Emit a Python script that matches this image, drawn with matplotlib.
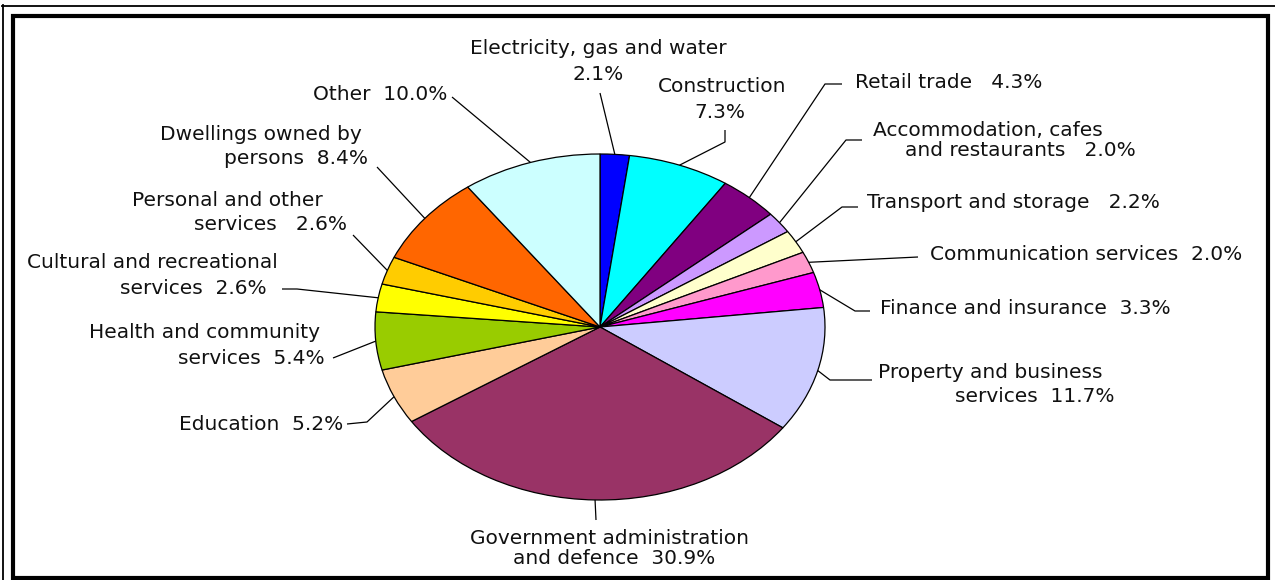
import matplotlib
matplotlib.use('Agg')
import matplotlib.pyplot as plt
from matplotlib.lines import Line2D
from matplotlib.patches import Rectangle
import numpy as np

# ---------------- data ----------------
categories = [
    "Electricity, gas and water", "Construction", "Retail trade",
    "Accommodation, cafes and restaurants", "Transport and storage",
    "Communication services", "Finance and insurance",
    "Property and business services", "Government administration and defence",
    "Education", "Health and community services",
    "Cultural and recreational services", "Personal and other services",
    "Dwellings owned by persons", "Other",
]
shares = [2.1, 7.3, 4.3, 2.0, 2.2, 2.0, 3.3, 11.7, 30.9, 5.2, 5.4, 2.6, 2.6, 8.4, 10.0]
colors = ["#0000FF", "#00FFFF", "#800080", "#CC99FF", "#FFFFCC", "#FF99CC",
          "#FF00FF", "#CCCCFF", "#993366", "#FFCC99", "#99CC00", "#FFFF00",
          "#FFCC00", "#FF6600", "#CCFFFF"]

# label text lines ({v} = share)
label_lines = [
    ["Electricity, gas and water", "{v}"],
    ["Construction", "{v}"],
    ["Retail trade   {v}"],
    ["Accommodation, cafes", "and restaurants   {v}"],
    ["Transport and storage   {v}"],
    ["Communication services  {v}"],
    ["Finance and insurance  {v}"],
    ["Property and business", "services  {v}"],
    ["Government administration", "and defence  {v}"],
    ["Education  {v}"],
    ["Health and community", "services  {v}"],
    ["Cultural and recreational", "services  {v}"],
    ["Personal and other", "services   {v}"],
    ["Dwellings owned by", "persons  {v}"],
    ["Other  {v}"],
]

# ---------------- layout (pixels) ----------------
W, H = 1275, 580
CX, CY, RX, RY = 600, 327, 225, 173

# (x, y, ha) per text line
text_pos = [
    [(598, 48, 'center'), (598, 74, 'center')],
    [(722, 87, 'center'), (720, 112, 'center')],
    [(855, 83, 'left')],
    [(873, 131, 'left'), (905, 150, 'left')],
    [(867, 203, 'left')],
    [(930, 255, 'left')],
    [(880, 308, 'left')],
    [(878, 372, 'left'), (955, 397, 'left')],
    [(610, 538, 'center'), (614, 558, 'center')],
    [(343, 424, 'right')],
    [(320, 333, 'right'), (325, 359, 'right')],
    [(278, 263, 'right'), (267, 289, 'right')],
    [(323, 200, 'right'), (347, 225, 'right')],
    [(362, 134, 'right'), (368, 159, 'right')],
    [(447, 94, 'right')],
]
# leader polyline points from label side toward the pie
leaders = [
    [(600, 93)],
    [(725, 130), (725, 142)],
    [(842, 84), (825, 84)],
    [(862, 140), (846, 140)],
    [(858, 207), (842, 207)],
    [(918, 257)],
    [(870, 311), (855, 311)],
    [(872, 380), (830, 380)],
    [(596, 520)],
    [(347, 424), (367, 422)],
    [(333, 358)],
    [(282, 289), (297, 289)],
    [(353, 235)],
    [(377, 167)],
    [(452, 97)],
]


def d(px, py):
    return ((px - CX) / RX, (CY - py) / RY)


fig = plt.figure(figsize=(W / 100, H / 100), dpi=100)
fig.patch.set_facecolor('white')
ax = fig.add_axes([0, 0, 1, 1])
wedges, _ = ax.pie(shares, colors=colors, startangle=90, counterclock=False,
                   wedgeprops=dict(edgecolor='black', linewidth=0.9))
ax.set_aspect('auto')
ax.set_xlim(-CX / RX, (W - CX) / RX)
ax.set_ylim(-(H - CY) / RY, CY / RY)
ax.axis('off')

FS = 14.5
for i, w in enumerate(wedges):
    vstr = f"{shares[i]:.1f}%"
    for line, (x, y, ha) in zip(label_lines[i], text_pos[i]):
        tx, ty = d(x, y)
        ax.text(tx, ty, line.format(v=vstr), ha=ha, va='center', fontsize=FS,
                family='DejaVu Sans', color='#111111')
    mid = np.deg2rad((w.theta1 + w.theta2) / 2)
    pts = [d(*p) for p in leaders[i]] + [(np.cos(mid), np.sin(mid))]
    xs, ys = zip(*pts)
    ax.plot(xs, ys, color='black', lw=0.9, solid_capstyle='butt')

# frames
fig.add_artist(Line2D([2 / W, 1], [1 - 6 / H, 1 - 6 / H], transform=fig.transFigure,
                      color='black', lw=1.3))
fig.add_artist(Line2D([3 / W, 3 / W], [0, 1 - 5 / H], transform=fig.transFigure,
                      color='black', lw=1.3))
fig.add_artist(Rectangle((13 / W, 2 / H), (1268 - 13) / W, (578 - 16) / H,
                         transform=fig.transFigure, fill=False, edgecolor='black', lw=3.0))

fig.savefig('out.png', dpi=100)
